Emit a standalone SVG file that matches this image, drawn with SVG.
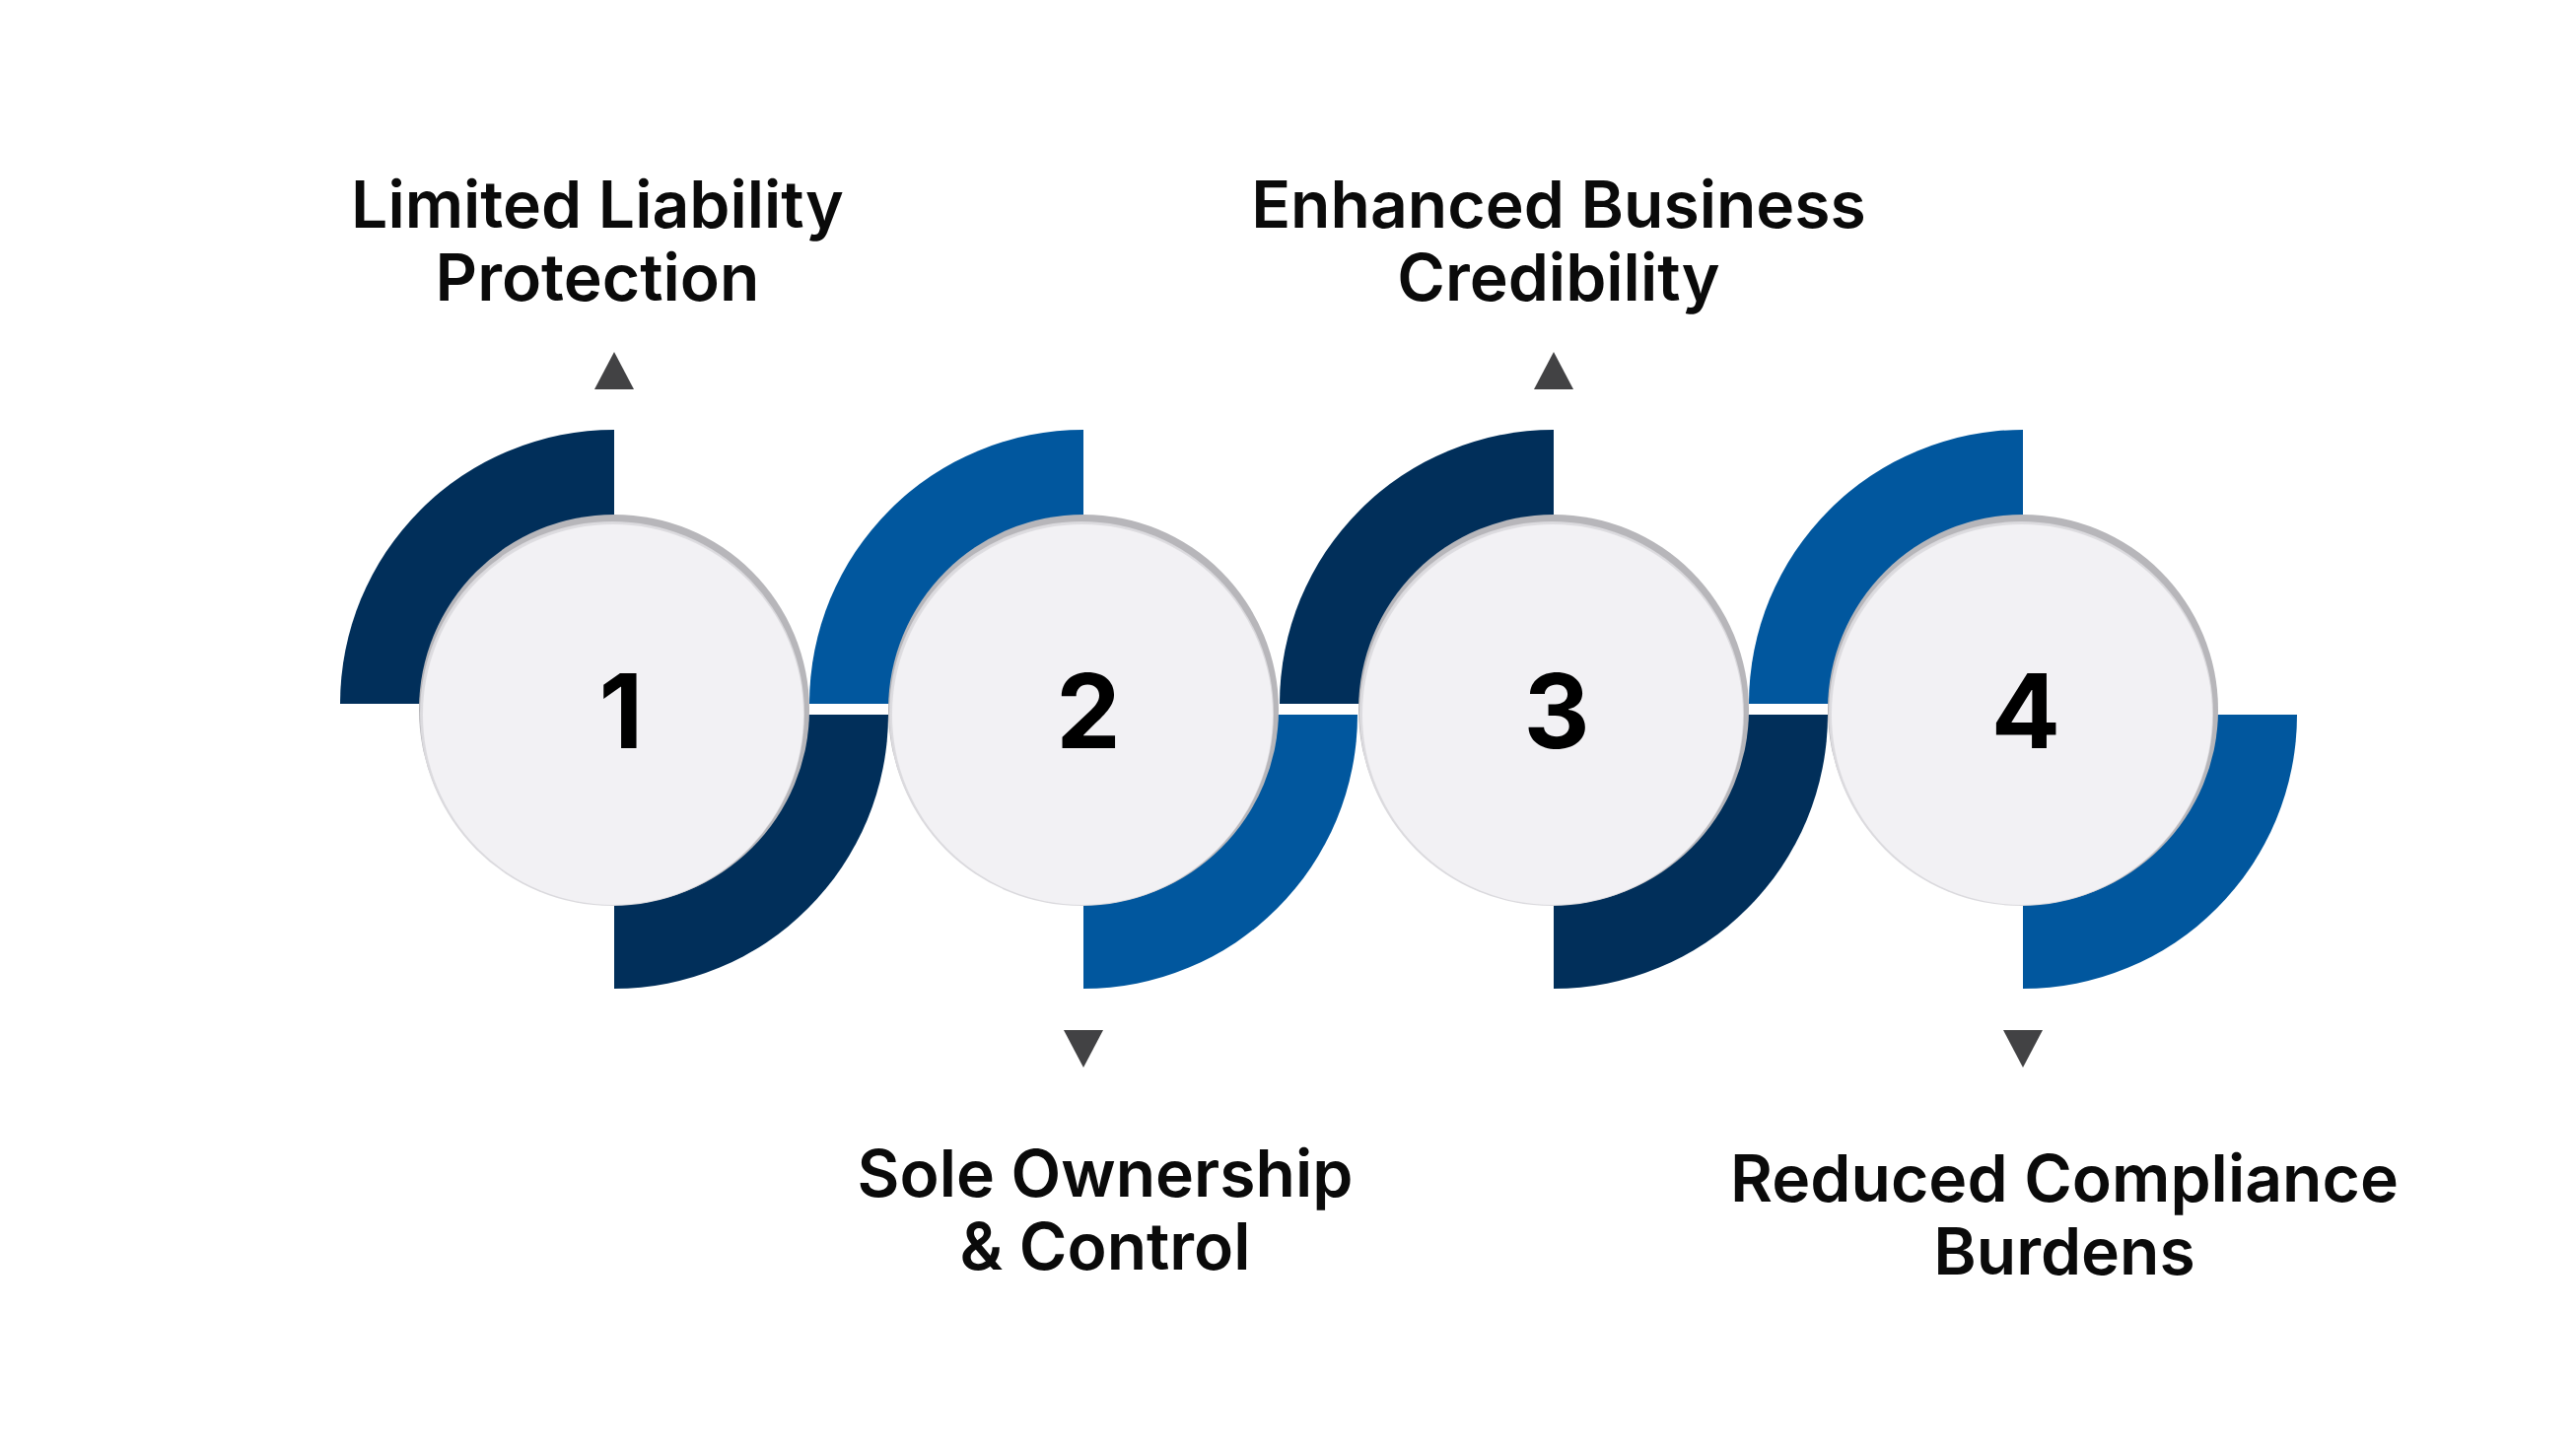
<svg xmlns="http://www.w3.org/2000/svg" width="2613" height="1470" viewBox="0 0 2613 1470">
<style>
.t{font-family:Inter,"Open Sans",sans-serif;font-weight:600;font-size:66px;fill:#0a0a0a;text-anchor:middle}
.n{font-family:Inter,"Open Sans",sans-serif;font-weight:700;font-size:104px;fill:#000;text-anchor:middle}
.d{fill:#012f5a}.b{fill:#01579e}.tri{fill:#424244}
</style>
<defs>
<radialGradient id="g" cx="0.5" cy="0.5" r="0.5">
<stop offset="0.93" stop-color="#f2f1f4"/><stop offset="1" stop-color="#d9d8dc"/>
</radialGradient>
<g id="circ"><circle r="198" fill="#b7b6ba"/><circle cx="-2" cy="4" r="195" fill="url(#g)"/><circle cx="-1" cy="5" r="193" fill="#f2f1f4"/></g>
</defs>
<rect width="2613" height="1470" fill="#fff"/>
<g id="connectors">
<path class="d" d="M345 714 A278 278 0 0 1 623 436 V714 Z"/>
<path class="d" d="M623 725 H901 A278 278 0 0 1 623 1003 Z"/>
<path class="b" d="M821 714 A278 278 0 0 1 1099 436 V714 Z"/>
<path class="b" d="M1099 725 H1377 A278 278 0 0 1 1099 1003 Z"/>
<path class="d" d="M1298 714 A278 278 0 0 1 1576 436 V714 Z"/>
<path class="d" d="M1576 725 H1854 A278 278 0 0 1 1576 1003 Z"/>
<path class="b" d="M1774 714 A278 278 0 0 1 2052 436 V714 Z"/>
<path class="b" d="M2052 725 H2330 A278 278 0 0 1 2052 1003 Z"/>
<polygon class="tri" points="623,357 643,395 603,395"/>
<polygon class="tri" points="1576,357 1596,395 1556,395"/>
<polygon class="tri" points="1079,1045 1119,1045 1099,1083"/>
<polygon class="tri" points="2032,1045 2072,1045 2052,1083"/>
</g>
<g id="node1"><use href="#circ" x="623" y="720"/><text class="n" x="630" y="759">1</text>
<text class="t" x="606" y="231">Limited Liability</text><text class="t" x="606" y="305">Protection</text></g>
<g id="node2"><use href="#circ" x="1099" y="720"/><text class="n" x="1104" y="759">2</text>
<text class="t" x="1121" y="1214">Sole Ownership</text><text class="t" x="1121" y="1288">&amp; Control</text></g>
<g id="node3"><use href="#circ" x="1576" y="720"/><text class="n" x="1579" y="759">3</text>
<text class="t" x="1581" y="231">Enhanced Business</text><text class="t" x="1581" y="305">Credibility</text></g>
<g id="node4"><use href="#circ" x="2052" y="720"/><text class="n" x="2055" y="759">4</text>
<text class="t" x="2094" y="1219">Reduced Compliance</text><text class="t" x="2094" y="1293">Burdens</text></g>
</svg>
